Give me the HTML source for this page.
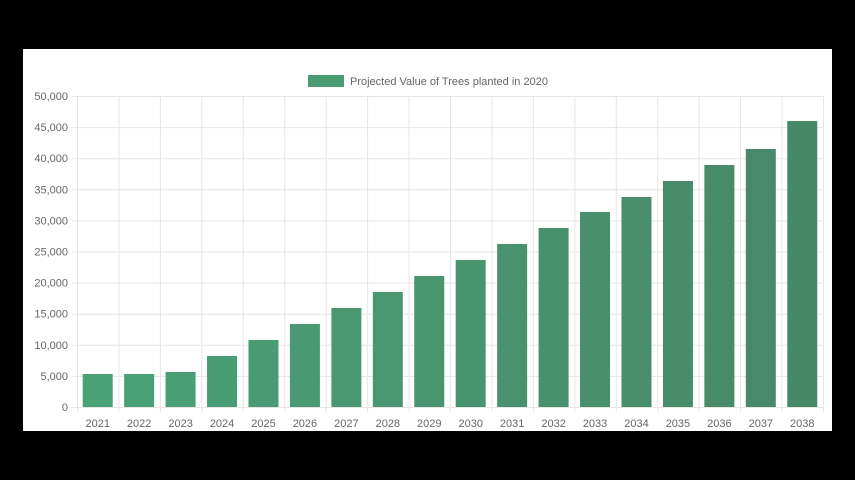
<!DOCTYPE html>
<html><head><style>
html,body{margin:0;padding:0;background:#000;width:855px;height:480px;overflow:hidden}
svg{display:block;font-family:"Liberation Sans",Arial,sans-serif}
</style></head><body>
<svg width="855" height="480" viewBox="0 0 855 480">
<rect x="23" y="49" width="809" height="382" fill="#fff"/>
<rect x="308" y="75" width="36" height="12" fill="#4a9d73"/>
<text x="350" y="85" font-size="11" fill="#666">Projected Value of Trees planted in 2020</text>
<g id="g"></g>
</svg>
<script>
const g=document.getElementById('g');const ns='http://www.w3.org/2000/svg';
function el(t,a,txt){const e=document.createElementNS(ns,t);for(const k in a)e.setAttribute(k,a[k]);if(txt!=null)e.textContent=txt;g.appendChild(e);return e;}
const L=77,R=823,T=96,B=407;const cw=(R-L)/18;
for(let i=0;i<=10;i++){const y=B-(B-T)*i/10;el('line',{x1:L-5,x2:R,y1:y+.5,y2:y+.5,stroke:'#e6e6e6'});
el('text',{x:68,y:y+4,'font-size':11,fill:'#666','text-anchor':'end'},(i*5000).toLocaleString('en-US'));}
for(let i=0;i<=18;i++){const x=L+cw*i;el('line',{x1:x+.5,x2:x+.5,y1:T,y2:B+5,stroke:'#e6e6e6'});}
const tops=[374,374,372,356,340,324,308,292,276,260,244,228,212,197,181,165,149,121];
const c0=[74,161,118],c1=[71,136,105];
tops.forEach((t,i)=>{const f=i/17;const c=c0.map((v,k)=>Math.round(v+(c1[k]-v)*f));
const x=L+cw*i+5.7;el('rect',{x:x,y:t,width:30,height:B-t,fill:`rgb(${c})`});
el('text',{x:L+cw*i+cw/2,y:427,'font-size':11,fill:'#666','text-anchor':'middle'},2021+i);});
</script>
</body></html>
